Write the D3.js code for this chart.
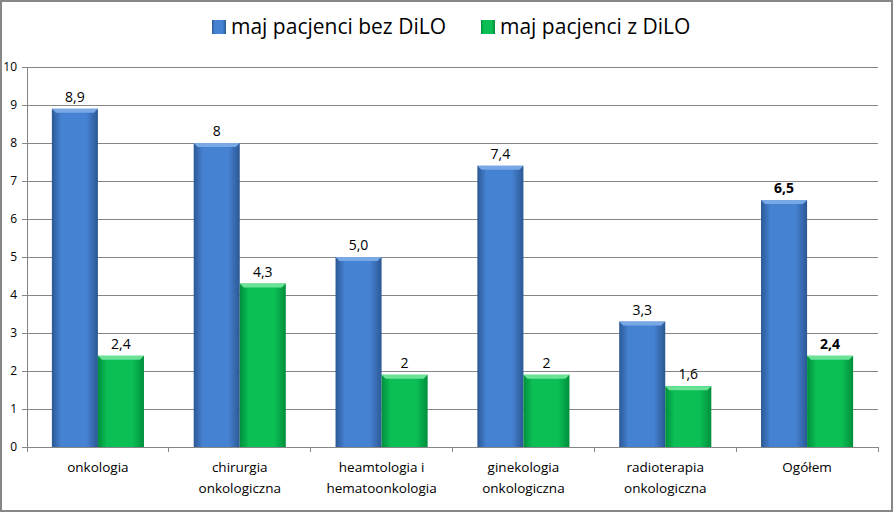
<!DOCTYPE html>
<html>
<head>
<meta charset="utf-8">
<title>DiLO</title>
<script src="https://cdn.jsdelivr.net/npm/d3@7"></script>
<style>
body { margin: 0; background: #fff; }
svg text { font-family: "Open Sans", sans-serif; fill: #000; }
</style>
</head>
<body>
<script>
// data
var categories = ["onkologia", "chirurgia\nonkologiczna", "heamtologia i\nhematoonkologia",
                  "ginekologia\nonkologiczna", "radioterapia\nonkologiczna", "Ogółem"];
var seriesNames = ["maj pacjenci bez DiLO", "maj pacjenci z DiLO"];
var bezDilo = [8.9, 8.0, 5.0, 7.4, 3.3, 6.5];
var zDilo = [2.4, 4.3, 1.9, 1.9, 1.6, 2.4];
var bezLabels = ["8,9", "8", "5,0", "7,4", "3,3", "6,5"];
var zLabels = ["2,4", "4,3", "2", "2", "1,6", "2,4"];
var yTicks = [0, 1, 2, 3, 4, 5, 6, 7, 8, 9, 10];

var W = 893, H = 512;
var plot = {left: 27, right: 878, top: 67, bottom: 447};

var svg = d3.select("body").append("svg")
    .attr("width", W).attr("height", H);

// outer frame
svg.append("rect")
    .attr("x", 1).attr("y", 1).attr("width", W - 2).attr("height", H - 2)
    .attr("fill", "#fff").attr("stroke", "#878787").attr("stroke-width", 2);

// gradients for the bars
var defs = svg.append("defs");
var colors = [
    {id: "gBlue", edge: "#2b5894", mid: "#4682d2", top: "#78a9e6"},
    {id: "gGreen", edge: "#008f3c", mid: "#0bbf55", top: "#6ae397"}
];
colors.forEach(function(c) {
    var g = defs.append("linearGradient").attr("id", c.id)
        .attr("x1", 0).attr("x2", 1).attr("y1", 0).attr("y2", 0);
    g.append("stop").attr("offset", "0%").attr("stop-color", c.edge);
    g.append("stop").attr("offset", "20%").attr("stop-color", c.mid);
    g.append("stop").attr("offset", "75%").attr("stop-color", c.mid);
    g.append("stop").attr("offset", "100%").attr("stop-color", c.edge);
});

var x0 = d3.scaleBand().domain(d3.range(categories.length))
    .range([plot.left, plot.right]).paddingInner(0).paddingOuter(0);
var x1 = d3.scaleBand().domain([0, 1])
    .range([0, x0.bandwidth()]).paddingInner(0).paddingOuter(0.54);
var y = d3.scaleLinear().domain([0, 10]).range([plot.bottom, plot.top]);

// gridlines
svg.append("g").selectAll("line")
    .data(yTicks.slice(1))
    .enter().append("line")
    .attr("x1", plot.left).attr("x2", plot.right)
    .attr("y1", function(d) { return y(d); }).attr("y2", function(d) { return y(d); })
    .attr("stroke", "#868686").attr("stroke-width", 1)
    .attr("shape-rendering", "crispEdges");

// y axis
var yAxis = d3.axisLeft(y).tickValues(yTicks).tickSize(5).tickPadding(5)
    .tickFormat(function(d) { return d; });
var gy = svg.append("g").attr("transform", "translate(" + plot.left + ",0)").call(yAxis);
gy.select(".domain").attr("stroke", "#868686");
gy.selectAll(".tick line").attr("stroke", "#868686");
gy.selectAll(".tick text").style("font-size", "12px").attr("font-family", null);

// x axis line and category ticks
svg.append("line")
    .attr("x1", plot.left).attr("x2", plot.right)
    .attr("y1", plot.bottom).attr("y2", plot.bottom)
    .attr("stroke", "#868686").attr("shape-rendering", "crispEdges");
svg.append("g").selectAll("line")
    .data(d3.range(categories.length + 1))
    .enter().append("line")
    .attr("x1", function(i) { return plot.left + i * x0.step(); })
    .attr("x2", function(i) { return plot.left + i * x0.step(); })
    .attr("y1", plot.bottom).attr("y2", plot.bottom + 5)
    .attr("stroke", "#868686").attr("shape-rendering", "crispEdges");

// bars
var series = [
    {values: bezDilo, labels: bezLabels, fill: "url(#gBlue)", top: colors[0].top},
    {values: zDilo, labels: zLabels, fill: "url(#gGreen)", top: colors[1].top}
];
var groups = svg.append("g").selectAll("g")
    .data(categories)
    .enter().append("g")
    .attr("transform", function(d, i) { return "translate(" + x0(i) + ",0)"; });

series.forEach(function(s, si) {
    groups.append("rect")
        .attr("x", x1(si))
        .attr("y", function(d, i) { return y(s.values[i]); })
        .attr("width", x1.bandwidth())
        .attr("height", function(d, i) { return y(0) - y(s.values[i]); })
        .attr("fill", s.fill);
    // bevel on the top of the bar
    groups.append("polygon")
        .attr("points", function(d, i) {
            var xl = x1(si), xr = x1(si) + x1.bandwidth(), yt = y(s.values[i]);
            return [[xl, yt], [xr, yt], [xr - 4, yt + 4], [xl + 4, yt + 4]].join(" ");
        })
        .attr("fill", s.top);
    groups.append("text")
        .attr("x", x1(si) + x1.bandwidth() / 2)
        .attr("y", function(d, i) { return y(s.values[i]) - 7; })
        .attr("text-anchor", "middle")
        .style("font-size", "14px")
        .style("font-weight", function(d, i) { return i === categories.length - 1 ? "bold" : "normal"; })
        .text(function(d, i) { return s.labels[i]; });
});

// category labels
groups.append("text")
    .attr("text-anchor", "middle")
    .style("font-size", "13.5px")
    .each(function(d) {
        var t = d3.select(this);
        d.split("\n").forEach(function(line, k) {
            t.append("tspan")
                .attr("x", x0.bandwidth() / 2)
                .attr("y", 472 + k * 21)
                .text(line);
        });
    });

// legend
var legendX = [212, 481];
var legend = svg.append("g").selectAll("g")
    .data(seriesNames)
    .enter().append("g")
    .attr("transform", function(d, i) { return "translate(" + legendX[i] + ",20)"; });
legend.append("rect")
    .attr("width", 14).attr("height", 14)
    .attr("fill", function(d, i) { return series[i].fill; });
legend.append("text")
    .attr("x", 19).attr("y", 14)
    .style("font-size", "21px")
    .text(function(d) { return d; });
</script>
</body>
</html>
